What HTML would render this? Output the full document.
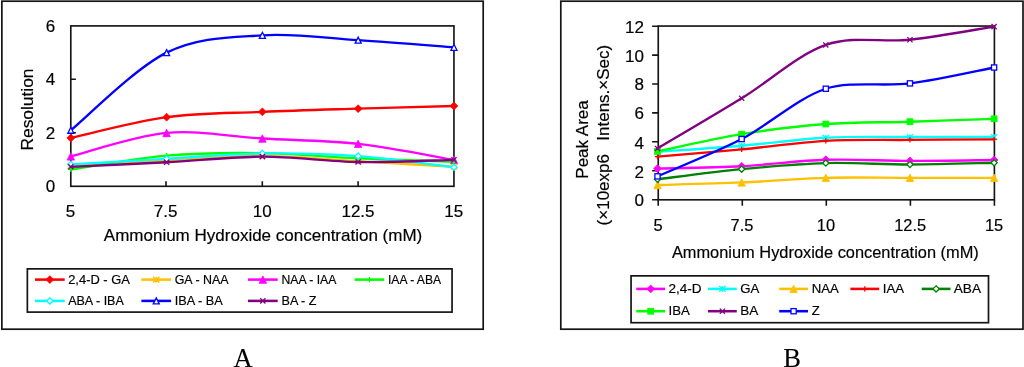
<!DOCTYPE html>
<html><head><meta charset="utf-8"><title>Charts</title>
<style>
html,body{margin:0;padding:0;background:#fff;}
body{width:1024px;height:367px;overflow:hidden;font-family:"Liberation Sans",sans-serif;}
svg{display:block;will-change:transform;}
text{font-family:"Liberation Sans",sans-serif;fill:#000;stroke:#000;stroke-width:0.18px;}
.s{font-family:"Liberation Serif",serif;stroke-width:0.1px;}
</style></head><body>
<svg width="1024" height="367" viewBox="0 0 1024 367">
<rect x="0" y="0" width="1024" height="367" fill="#fff"/>
<rect x="1.85" y="1.2" width="481.35" height="328.0" fill="#fff" stroke="#151515" stroke-width="1.7"/>
<rect x="70.8" y="25.9" width="383.15" height="160.40" fill="#fff" stroke="#151515" stroke-width="1.65"/>
<path d="M166.0 186.3v-5.1M262.3 186.3v-5.1M358.1 186.3v-5.1M70.8 132.7h5.1M70.8 79.3h5.1" stroke="#151515" stroke-width="1.6" fill="none"/>
<text x="55.1" y="192.4" font-size="17" text-anchor="end">0</text>
<text x="55.1" y="139.1" font-size="17" text-anchor="end">2</text>
<text x="55.1" y="84.7" font-size="17" text-anchor="end">4</text>
<text x="55.1" y="32.1" font-size="17" text-anchor="end">6</text>
<text x="70.6" y="216.8" font-size="17" text-anchor="middle">5</text>
<text x="165.6" y="216.8" font-size="17" text-anchor="middle">7.5</text>
<text x="262.2" y="216.8" font-size="17" text-anchor="middle">10</text>
<text x="358.0" y="216.8" font-size="17" text-anchor="middle">12.5</text>
<text x="453.8" y="216.8" font-size="17" text-anchor="middle">15</text>
<text x="103.8" y="240.8" font-size="17" textLength="318.5" lengthAdjust="spacingAndGlyphs">Ammonium Hydroxide concentration (mM)</text>
<text transform="translate(32.9 150.5) rotate(-90)" font-size="17" textLength="82.0" lengthAdjust="spacingAndGlyphs">Resolution</text>
<path d="M70.8 138 C86.76 134.53 134.66 121.55 166.59 117.2 C198.52 112.84 230.45 113.29 262.38 111.87 C294.3 110.44 326.23 109.64 358.16 108.67 C390.09 107.69 437.99 106.44 453.95 106" fill="none" stroke="#ff0000" stroke-width="2.35" stroke-linejoin="round" stroke-linecap="round"/>
<path d="M70.8 134.1L74.7 138.0L70.8 141.9L66.89999999999999 138.0Z" fill="#ff0000" stroke="#ff0000" stroke-width="0.8"/>
<path d="M166.59 113.3L170.49 117.2L166.59 121.10000000000001L162.69 117.2Z" fill="#ff0000" stroke="#ff0000" stroke-width="0.8"/>
<path d="M262.38 107.97L266.28 111.87L262.38 115.77000000000001L258.48 111.87Z" fill="#ff0000" stroke="#ff0000" stroke-width="0.8"/>
<path d="M358.16 104.77L362.06 108.67L358.16 112.57000000000001L354.26000000000005 108.67Z" fill="#ff0000" stroke="#ff0000" stroke-width="0.8"/>
<path d="M453.95 102.1L457.84999999999997 106.0L453.95 109.9L450.05 106.0Z" fill="#ff0000" stroke="#ff0000" stroke-width="0.8"/>
<path d="M70.8 166 C86.76 165.11 134.66 162.36 166.59 160.67 C198.52 158.98 230.45 155.78 262.38 155.87 C294.3 155.96 326.23 159.38 358.16 161.2 C390.09 163.02 437.99 165.87 453.95 166.8" fill="none" stroke="#ffc000" stroke-width="2.35" stroke-linejoin="round" stroke-linecap="round"/>
<path d="M67.6 163.2L74.0 168.8M67.6 168.8L74.0 163.2M70.8 163.2L70.8 168.8" fill="none" stroke="#ffc000" stroke-width="1.3"/>
<path d="M163.39000000000001 157.86999999999998L169.79 163.47M163.39000000000001 163.47L169.79 157.86999999999998M166.59 157.86999999999998L166.59 163.47" fill="none" stroke="#ffc000" stroke-width="1.3"/>
<path d="M259.18 153.07L265.58 158.67000000000002M259.18 158.67000000000002L265.58 153.07M262.38 153.07L262.38 158.67000000000002" fill="none" stroke="#ffc000" stroke-width="1.3"/>
<path d="M354.96000000000004 158.39999999999998L361.36 164.0M354.96000000000004 164.0L361.36 158.39999999999998M358.16 158.39999999999998L358.16 164.0" fill="none" stroke="#ffc000" stroke-width="1.3"/>
<path d="M450.75 164.0L457.15 169.60000000000002M450.75 169.60000000000002L457.15 164.0M453.95 164.0L453.95 169.60000000000002" fill="none" stroke="#ffc000" stroke-width="1.3"/>
<path d="M70.8 156.4 C86.76 152.49 134.66 135.91 166.59 132.93 C198.52 129.95 230.45 136.71 262.38 138.53 C294.3 140.35 326.23 140.31 358.16 143.87 C390.09 147.42 437.99 157.2 453.95 159.87" fill="none" stroke="#ff00ff" stroke-width="2.35" stroke-linejoin="round" stroke-linecap="round"/>
<path d="M70.8 152.70000000000002L74.5 160.1L67.1 160.1Z" fill="#ff00ff" stroke="#ff00ff" stroke-width="0.8"/>
<path d="M166.59 129.23000000000002L170.29 136.63L162.89000000000001 136.63Z" fill="#ff00ff" stroke="#ff00ff" stroke-width="0.8"/>
<path d="M262.38 134.83L266.08 142.23L258.68 142.23Z" fill="#ff00ff" stroke="#ff00ff" stroke-width="0.8"/>
<path d="M358.16 140.17000000000002L361.86 147.57L354.46000000000004 147.57Z" fill="#ff00ff" stroke="#ff00ff" stroke-width="0.8"/>
<path d="M453.95 156.17000000000002L457.65 163.57L450.25 163.57Z" fill="#ff00ff" stroke="#ff00ff" stroke-width="0.8"/>
<path d="M70.8 169.47 C86.76 167.16 134.66 158.31 166.59 155.6 C198.52 152.89 230.45 152.76 262.38 153.2 C294.3 153.64 326.23 156.84 358.16 158.27 C390.09 159.69 437.99 161.16 453.95 161.73" fill="none" stroke="#00ff00" stroke-width="2.35" stroke-linejoin="round" stroke-linecap="round"/>
<path d="M68.2 169.47L73.39999999999999 169.47M70.8 166.87L70.8 172.07" fill="none" stroke="#00ff00" stroke-width="1.3"/>
<path d="M163.99 155.6L169.19 155.6M166.59 153.0L166.59 158.2" fill="none" stroke="#00ff00" stroke-width="1.3"/>
<path d="M259.78 153.2L264.98 153.2M262.38 150.6L262.38 155.79999999999998" fill="none" stroke="#00ff00" stroke-width="1.3"/>
<path d="M355.56 158.27L360.76000000000005 158.27M358.16 155.67000000000002L358.16 160.87" fill="none" stroke="#00ff00" stroke-width="1.3"/>
<path d="M451.34999999999997 161.73L456.55 161.73M453.95 159.13L453.95 164.32999999999998" fill="none" stroke="#00ff00" stroke-width="1.3"/>
<path d="M70.8 164.4 C86.76 163.47 134.66 160.62 166.59 158.8 C198.52 156.98 230.45 153.91 262.38 153.47 C294.3 153.02 326.23 153.82 358.16 156.13 C390.09 158.44 437.99 165.47 453.95 167.33" fill="none" stroke="#00ffff" stroke-width="2.35" stroke-linejoin="round" stroke-linecap="round"/>
<path d="M70.8 161.3L73.89999999999999 164.4L70.8 167.5L67.7 164.4Z" fill="#fff" stroke="#00ffff" stroke-width="1.3"/>
<path d="M166.59 155.70000000000002L169.69 158.8L166.59 161.9L163.49 158.8Z" fill="#fff" stroke="#00ffff" stroke-width="1.3"/>
<path d="M262.38 150.37L265.48 153.47L262.38 156.57L259.28 153.47Z" fill="#fff" stroke="#00ffff" stroke-width="1.3"/>
<path d="M358.16 153.03L361.26000000000005 156.13L358.16 159.23L355.06 156.13Z" fill="#fff" stroke="#00ffff" stroke-width="1.3"/>
<path d="M453.95 164.23000000000002L457.05 167.33L453.95 170.43L450.84999999999997 167.33Z" fill="#fff" stroke="#00ffff" stroke-width="1.3"/>
<path d="M70.8 130.27 C86.76 117.33 134.66 68.49 166.59 52.66 C198.52 36.84 230.45 37.42 262.38 35.33 C294.3 33.24 326.23 38.13 358.16 40.13 C390.09 42.13 437.99 46.13 453.95 47.33" fill="none" stroke="#0000ff" stroke-width="2.35" stroke-linejoin="round" stroke-linecap="round"/>
<path d="M70.8 127.27000000000001L73.8 133.27L67.8 133.27Z" fill="#fff" stroke="#0000ff" stroke-width="1.3"/>
<path d="M166.59 49.66L169.59 55.66L163.59 55.66Z" fill="#fff" stroke="#0000ff" stroke-width="1.3"/>
<path d="M262.38 32.33L265.38 38.33L259.38 38.33Z" fill="#fff" stroke="#0000ff" stroke-width="1.3"/>
<path d="M358.16 37.13L361.16 43.13L355.16 43.13Z" fill="#fff" stroke="#0000ff" stroke-width="1.3"/>
<path d="M453.95 44.33L456.95 50.33L450.95 50.33Z" fill="#fff" stroke="#0000ff" stroke-width="1.3"/>
<path d="M70.8 166.8 C86.76 166.04 134.66 163.96 166.59 162.27 C198.52 160.58 230.45 156.71 262.38 156.67 C294.3 156.62 326.23 161.47 358.16 162 C390.09 162.53 437.99 160.22 453.95 159.87" fill="none" stroke="#800080" stroke-width="2.35" stroke-linejoin="round" stroke-linecap="round"/>
<path d="M68.2 164.20000000000002L73.39999999999999 169.4M68.2 169.4L73.39999999999999 164.20000000000002" fill="none" stroke="#800080" stroke-width="1.3"/>
<path d="M163.99 159.67000000000002L169.19 164.87M163.99 164.87L169.19 159.67000000000002" fill="none" stroke="#800080" stroke-width="1.3"/>
<path d="M259.78 154.07L264.98 159.26999999999998M259.78 159.26999999999998L264.98 154.07" fill="none" stroke="#800080" stroke-width="1.3"/>
<path d="M355.56 159.4L360.76000000000005 164.6M355.56 164.6L360.76000000000005 159.4" fill="none" stroke="#800080" stroke-width="1.3"/>
<path d="M451.34999999999997 157.27L456.55 162.47M451.34999999999997 162.47L456.55 157.27" fill="none" stroke="#800080" stroke-width="1.3"/>
<rect x="27.35" y="268.85" width="424.7" height="43.25" fill="#fff" stroke="#151515" stroke-width="1.7"/>
<path d="M35.0 279.6h29.7" stroke="#ff0000" stroke-width="2.55" fill="none"/>
<path d="M49.85 275.70000000000005L53.75 279.6L49.85 283.5L45.95 279.6Z" fill="#ff0000" stroke="#ff0000" stroke-width="0.8"/>
<text x="68.2" y="283.5" font-size="13.5" stroke="#000" stroke-width="0.2" textLength="61.7" lengthAdjust="spacingAndGlyphs">2,4-D - GA</text>
<path d="M141.4 279.6h29.7" stroke="#ffc000" stroke-width="2.55" fill="none"/>
<path d="M153.05 276.8L159.45 282.40000000000003M153.05 282.40000000000003L159.45 276.8M156.25 276.8L156.25 282.40000000000003" fill="none" stroke="#ffc000" stroke-width="1.3"/>
<text x="174.7" y="283.5" font-size="13.5" stroke="#000" stroke-width="0.2" textLength="53.9" lengthAdjust="spacingAndGlyphs">GA - NAA</text>
<path d="M248.0 279.6h29.7" stroke="#ff00ff" stroke-width="2.55" fill="none"/>
<path d="M262.85 275.90000000000003L266.55 283.3L259.15000000000003 283.3Z" fill="#ff00ff" stroke="#ff00ff" stroke-width="0.8"/>
<text x="281.5" y="283.5" font-size="13.5" stroke="#000" stroke-width="0.2" textLength="54.9" lengthAdjust="spacingAndGlyphs">NAA - IAA</text>
<path d="M354.6 279.6h29.7" stroke="#00ff00" stroke-width="2.55" fill="none"/>
<path d="M366.84999999999997 279.6L372.05 279.6M369.45 277.0L369.45 282.20000000000005" fill="none" stroke="#00ff00" stroke-width="1.3"/>
<text x="388.0" y="283.5" font-size="13.5" stroke="#000" stroke-width="0.2" textLength="53.0" lengthAdjust="spacingAndGlyphs">IAA - ABA</text>
<path d="M35.0 300.9h29.7" stroke="#00ffff" stroke-width="2.55" fill="none"/>
<path d="M49.85 297.79999999999995L52.95 300.9L49.85 304.0L46.75 300.9Z" fill="#fff" stroke="#00ffff" stroke-width="1.3"/>
<text x="68.2" y="305.2" font-size="13.5" stroke="#000" stroke-width="0.2" textLength="55.6" lengthAdjust="spacingAndGlyphs">ABA - IBA</text>
<path d="M141.4 300.9h29.7" stroke="#0000ff" stroke-width="2.55" fill="none"/>
<path d="M156.25 297.9L159.25 303.9L153.25 303.9Z" fill="#fff" stroke="#0000ff" stroke-width="1.3"/>
<text x="174.7" y="305.2" font-size="13.5" stroke="#000" stroke-width="0.2" textLength="48.0" lengthAdjust="spacingAndGlyphs">IBA - BA</text>
<path d="M248.0 300.9h29.7" stroke="#800080" stroke-width="2.55" fill="none"/>
<path d="M260.25 298.29999999999995L265.45000000000005 303.5M260.25 303.5L265.45000000000005 298.29999999999995" fill="none" stroke="#800080" stroke-width="1.3"/>
<text x="281.5" y="305.2" font-size="13.5" stroke="#000" stroke-width="0.2" textLength="35.0" lengthAdjust="spacingAndGlyphs">BA - Z</text>
<text class="s" x="243" y="367.0" font-size="26.5" text-anchor="middle">A</text>
<rect x="560.8" y="1.2" width="462.2" height="328.0" fill="#fff" stroke="#151515" stroke-width="1.7"/>
<rect x="658.25" y="26.05" width="336.15" height="173.75" fill="#fff" stroke="#151515" stroke-width="1.65"/>
<path d="M658.2 199.8v5.9M742.3 199.8v5.9M826.3 199.8v5.9M910.4 199.8v5.9M994.4 199.8v5.9M658.25 199.7h-6.15M658.25 170.7h-6.15M658.25 141.8h-6.15M658.25 112.9h-6.15M658.25 84.0h-6.15M658.25 55.1h-6.15M658.25 26.2h-6.15" stroke="#151515" stroke-width="1.6" fill="none"/>
<text x="644.0" y="206.1" font-size="17" text-anchor="end">0</text>
<text x="644.0" y="177.5" font-size="17" text-anchor="end">2</text>
<text x="644.0" y="148.6" font-size="17" text-anchor="end">4</text>
<text x="644.0" y="119.3" font-size="17" text-anchor="end">6</text>
<text x="644.0" y="90.4" font-size="17" text-anchor="end">8</text>
<text x="644.0" y="61.5" font-size="17" text-anchor="end">10</text>
<text x="644.0" y="32.6" font-size="17" text-anchor="end">12</text>
<text transform="translate(658.0 230.8) scale(0.966 1)" font-size="17" text-anchor="middle">5</text>
<text transform="translate(742.0 230.8) scale(0.966 1)" font-size="17" text-anchor="middle">7.5</text>
<text transform="translate(826.0 230.8) scale(0.966 1)" font-size="17" text-anchor="middle">10</text>
<text transform="translate(910.1 230.8) scale(0.966 1)" font-size="17" text-anchor="middle">12.5</text>
<text transform="translate(994.1 230.8) scale(0.966 1)" font-size="17" text-anchor="middle">15</text>
<text x="671.9" y="257.8" font-size="17" textLength="306.9" lengthAdjust="spacingAndGlyphs">Ammonium Hydroxide concentration (mM)</text>
<text transform="translate(588.3 178.7) rotate(-90)" font-size="17" textLength="78.5" lengthAdjust="spacingAndGlyphs">Peak Area</text>
<text transform="translate(609.0 225.4) rotate(-90)" font-size="17">(×10exp6</text>
<text transform="translate(609.0 140.7) rotate(-90)" font-size="17">Intens.×Sec)</text>
<path d="M657.5 168.56 C671.52 168.17 713.6 167.72 741.65 166.25 C769.7 164.78 797.75 160.63 825.8 159.74 C853.85 158.85 881.9 160.85 909.95 160.9 C938 160.95 980.08 160.17 994.1 160.03" fill="none" stroke="#ff00ff" stroke-width="2.35" stroke-linejoin="round" stroke-linecap="round"/>
<path d="M657.5 164.66L661.4 168.56L657.5 172.46L653.6 168.56Z" fill="#ff00ff" stroke="#ff00ff" stroke-width="0.8"/>
<path d="M741.65 162.35L745.55 166.25L741.65 170.15L737.75 166.25Z" fill="#ff00ff" stroke="#ff00ff" stroke-width="0.8"/>
<path d="M825.8 155.84L829.6999999999999 159.74L825.8 163.64000000000001L821.9 159.74Z" fill="#ff00ff" stroke="#ff00ff" stroke-width="0.8"/>
<path d="M909.95 157.0L913.85 160.9L909.95 164.8L906.0500000000001 160.9Z" fill="#ff00ff" stroke="#ff00ff" stroke-width="0.8"/>
<path d="M994.1 156.13L998.0 160.03L994.1 163.93L990.2 160.03Z" fill="#ff00ff" stroke="#ff00ff" stroke-width="0.8"/>
<path d="M657.5 151.79 C671.52 150.78 713.6 148.05 741.65 145.72 C769.7 143.38 797.75 139.21 825.8 137.76 C853.85 136.32 881.9 137.16 909.95 137.04 C938 136.92 980.08 137.04 994.1 137.04" fill="none" stroke="#00ffff" stroke-width="2.35" stroke-linejoin="round" stroke-linecap="round"/>
<path d="M654.3 148.98999999999998L660.7 154.59M654.3 154.59L660.7 148.98999999999998M657.5 148.98999999999998L657.5 154.59" fill="none" stroke="#00ffff" stroke-width="1.3"/>
<path d="M738.4499999999999 142.92L744.85 148.52M738.4499999999999 148.52L744.85 142.92M741.65 142.92L741.65 148.52" fill="none" stroke="#00ffff" stroke-width="1.3"/>
<path d="M822.5999999999999 134.95999999999998L829.0 140.56M822.5999999999999 140.56L829.0 134.95999999999998M825.8 134.95999999999998L825.8 140.56" fill="none" stroke="#00ffff" stroke-width="1.3"/>
<path d="M906.75 134.23999999999998L913.1500000000001 139.84M906.75 139.84L913.1500000000001 134.23999999999998M909.95 134.23999999999998L909.95 139.84" fill="none" stroke="#00ffff" stroke-width="1.3"/>
<path d="M990.9 134.23999999999998L997.3000000000001 139.84M990.9 139.84L997.3000000000001 134.23999999999998M994.1 134.23999999999998L994.1 139.84" fill="none" stroke="#00ffff" stroke-width="1.3"/>
<path d="M657.5 185.04 C671.52 184.61 713.6 183.64 741.65 182.44 C769.7 181.23 797.75 178.58 825.8 177.81 C853.85 177.04 881.9 177.81 909.95 177.81 C938 177.81 980.08 177.81 994.1 177.81" fill="none" stroke="#ffc000" stroke-width="2.35" stroke-linejoin="round" stroke-linecap="round"/>
<path d="M657.5 181.34L661.2 188.73999999999998L653.8 188.73999999999998Z" fill="#ffc000" stroke="#ffc000" stroke-width="0.8"/>
<path d="M741.65 178.74L745.35 186.14L737.9499999999999 186.14Z" fill="#ffc000" stroke="#ffc000" stroke-width="0.8"/>
<path d="M825.8 174.11L829.5 181.51L822.0999999999999 181.51Z" fill="#ffc000" stroke="#ffc000" stroke-width="0.8"/>
<path d="M909.95 174.11L913.6500000000001 181.51L906.25 181.51Z" fill="#ffc000" stroke="#ffc000" stroke-width="0.8"/>
<path d="M994.1 174.11L997.8000000000001 181.51L990.4 181.51Z" fill="#ffc000" stroke="#ffc000" stroke-width="0.8"/>
<path d="M657.5 156.56 C671.52 155.35 713.6 151.96 741.65 149.33 C769.7 146.7 797.75 142.37 825.8 140.8 C853.85 139.23 881.9 140.17 909.95 139.93 C938 139.69 980.08 139.45 994.1 139.35" fill="none" stroke="#ff0000" stroke-width="2.35" stroke-linejoin="round" stroke-linecap="round"/>
<path d="M654.9 156.56L660.1 156.56M657.5 153.96L657.5 159.16" fill="none" stroke="#ff0000" stroke-width="1.3"/>
<path d="M739.05 149.33L744.25 149.33M741.65 146.73000000000002L741.65 151.93" fill="none" stroke="#ff0000" stroke-width="1.3"/>
<path d="M823.1999999999999 140.8L828.4 140.8M825.8 138.20000000000002L825.8 143.4" fill="none" stroke="#ff0000" stroke-width="1.3"/>
<path d="M907.35 139.93L912.5500000000001 139.93M909.95 137.33L909.95 142.53" fill="none" stroke="#ff0000" stroke-width="1.3"/>
<path d="M991.5 139.35L996.7 139.35M994.1 136.75L994.1 141.95" fill="none" stroke="#ff0000" stroke-width="1.3"/>
<path d="M657.5 179.26 C671.52 177.57 713.6 171.84 741.65 169.14 C769.7 166.44 797.75 163.84 825.8 163.07 C853.85 162.29 881.9 164.56 909.95 164.51 C938 164.46 980.08 163.07 994.1 162.78" fill="none" stroke="#008000" stroke-width="2.35" stroke-linejoin="round" stroke-linecap="round"/>
<path d="M657.5 176.16L660.6 179.26L657.5 182.35999999999999L654.4 179.26Z" fill="#fff" stroke="#008000" stroke-width="1.3"/>
<path d="M741.65 166.04L744.75 169.14L741.65 172.23999999999998L738.55 169.14Z" fill="#fff" stroke="#008000" stroke-width="1.3"/>
<path d="M825.8 159.97L828.9 163.07L825.8 166.17L822.6999999999999 163.07Z" fill="#fff" stroke="#008000" stroke-width="1.3"/>
<path d="M909.95 161.41L913.0500000000001 164.51L909.95 167.60999999999999L906.85 164.51Z" fill="#fff" stroke="#008000" stroke-width="1.3"/>
<path d="M994.1 159.68L997.2 162.78L994.1 165.88L991.0 162.78Z" fill="#fff" stroke="#008000" stroke-width="1.3"/>
<path d="M657.5 151.35 C671.52 148.49 713.6 138.7 741.65 134.15 C769.7 129.6 797.75 126.1 825.8 124.03 C853.85 121.96 881.9 122.58 909.95 121.72 C938 120.85 980.08 119.31 994.1 118.82" fill="none" stroke="#00ff00" stroke-width="2.35" stroke-linejoin="round" stroke-linecap="round"/>
<rect x="654.55" y="148.4" width="5.9" height="5.9" fill="#00ff00" stroke="#00ff00" stroke-width="0.8"/>
<rect x="738.6999999999999" y="131.20000000000002" width="5.9" height="5.9" fill="#00ff00" stroke="#00ff00" stroke-width="0.8"/>
<rect x="822.8499999999999" y="121.08" width="5.9" height="5.9" fill="#00ff00" stroke="#00ff00" stroke-width="0.8"/>
<rect x="907.0" y="118.77" width="5.9" height="5.9" fill="#00ff00" stroke="#00ff00" stroke-width="0.8"/>
<rect x="991.15" y="115.86999999999999" width="5.9" height="5.9" fill="#00ff00" stroke="#00ff00" stroke-width="0.8"/>
<path d="M657.5 148.46 C671.52 140.1 713.6 115.55 741.65 98.29 C769.7 81.04 797.75 54.7 825.8 44.94 C853.85 35.18 881.9 42.8 909.95 39.74 C938 36.68 980.08 28.78 994.1 26.58" fill="none" stroke="#800080" stroke-width="2.35" stroke-linejoin="round" stroke-linecap="round"/>
<path d="M654.9 145.86L660.1 151.06M654.9 151.06L660.1 145.86" fill="none" stroke="#800080" stroke-width="1.3"/>
<path d="M739.05 95.69000000000001L744.25 100.89M739.05 100.89L744.25 95.69000000000001" fill="none" stroke="#800080" stroke-width="1.3"/>
<path d="M823.1999999999999 42.339999999999996L828.4 47.54M823.1999999999999 47.54L828.4 42.339999999999996" fill="none" stroke="#800080" stroke-width="1.3"/>
<path d="M907.35 37.14L912.5500000000001 42.34M907.35 42.34L912.5500000000001 37.14" fill="none" stroke="#800080" stroke-width="1.3"/>
<path d="M991.5 23.979999999999997L996.7 29.18M991.5 29.18L996.7 23.979999999999997" fill="none" stroke="#800080" stroke-width="1.3"/>
<path d="M657.5 176.37 C671.52 170.15 716.39 152.22 741.65 139.07 C768.56 125.06 797.75 98.03 825.8 88.75 C849.92 80.77 884.07 86.67 909.95 83.4 C936.24 80.08 980.08 70.15 994.1 67.5" fill="none" stroke="#0000ff" stroke-width="2.35" stroke-linejoin="round" stroke-linecap="round"/>
<rect x="654.9" y="173.77" width="5.2" height="5.2" fill="#fff" stroke="#0000ff" stroke-width="1.3"/>
<rect x="739.05" y="136.47" width="5.2" height="5.2" fill="#fff" stroke="#0000ff" stroke-width="1.3"/>
<rect x="823.1999999999999" y="86.15" width="5.2" height="5.2" fill="#fff" stroke="#0000ff" stroke-width="1.3"/>
<rect x="907.35" y="80.80000000000001" width="5.2" height="5.2" fill="#fff" stroke="#0000ff" stroke-width="1.3"/>
<rect x="991.5" y="64.9" width="5.2" height="5.2" fill="#fff" stroke="#0000ff" stroke-width="1.3"/>
<rect x="631.05" y="275.85" width="357.45" height="46.85" fill="#fff" stroke="#151515" stroke-width="1.7"/>
<path d="M636.3 288.9h28.8" stroke="#ff00ff" stroke-width="2.55" fill="none"/>
<path d="M650.7 285.0L654.6 288.9L650.7 292.79999999999995L646.8000000000001 288.9Z" fill="#ff00ff" stroke="#ff00ff" stroke-width="0.8"/>
<text x="668.5" y="292.9" font-size="13.5" stroke="#000" stroke-width="0.2" textLength="33.1" lengthAdjust="spacingAndGlyphs">2,4-D</text>
<path d="M708.0 288.9h28.8" stroke="#00ffff" stroke-width="2.55" fill="none"/>
<path d="M719.1999999999999 286.09999999999997L725.6 291.7M719.1999999999999 291.7L725.6 286.09999999999997M722.4 286.09999999999997L722.4 291.7" fill="none" stroke="#00ffff" stroke-width="1.3"/>
<text x="740.2" y="292.9" font-size="13.5" stroke="#000" stroke-width="0.2" textLength="19.1" lengthAdjust="spacingAndGlyphs">GA</text>
<path d="M779.2 288.9h28.8" stroke="#ffc000" stroke-width="2.55" fill="none"/>
<path d="M793.6 285.2L797.3000000000001 292.59999999999997L789.9 292.59999999999997Z" fill="#ffc000" stroke="#ffc000" stroke-width="0.8"/>
<text x="811.7" y="292.9" font-size="13.5" stroke="#000" stroke-width="0.2" textLength="27.1" lengthAdjust="spacingAndGlyphs">NAA</text>
<path d="M850.4 288.9h28.8" stroke="#ff0000" stroke-width="2.55" fill="none"/>
<path d="M862.1999999999999 288.9L867.4 288.9M864.8 286.29999999999995L864.8 291.5" fill="none" stroke="#ff0000" stroke-width="1.3"/>
<text x="882.8" y="292.9" font-size="13.5" stroke="#000" stroke-width="0.2" textLength="21.3" lengthAdjust="spacingAndGlyphs">IAA</text>
<path d="M921.7 288.9h28.8" stroke="#008000" stroke-width="2.55" fill="none"/>
<path d="M936.1 285.79999999999995L939.2 288.9L936.1 292.0L933.0 288.9Z" fill="#fff" stroke="#008000" stroke-width="1.3"/>
<text x="953.8" y="292.9" font-size="13.5" stroke="#000" stroke-width="0.2" textLength="27.2" lengthAdjust="spacingAndGlyphs">ABA</text>
<path d="M636.3 311.2h28.8" stroke="#00ff00" stroke-width="2.55" fill="none"/>
<rect x="647.75" y="308.25" width="5.9" height="5.9" fill="#00ff00" stroke="#00ff00" stroke-width="0.8"/>
<text x="668.5" y="315.3" font-size="13.5" stroke="#000" stroke-width="0.2" textLength="21.3" lengthAdjust="spacingAndGlyphs">IBA</text>
<path d="M708.0 311.2h28.8" stroke="#800080" stroke-width="2.55" fill="none"/>
<path d="M719.8 308.59999999999997L725.0 313.8M719.8 313.8L725.0 308.59999999999997" fill="none" stroke="#800080" stroke-width="1.3"/>
<text x="740.2" y="315.3" font-size="13.5" stroke="#000" stroke-width="0.2" textLength="18.0" lengthAdjust="spacingAndGlyphs">BA</text>
<path d="M779.2 311.2h28.8" stroke="#0000ff" stroke-width="2.55" fill="none"/>
<rect x="791.0" y="308.59999999999997" width="5.2" height="5.2" fill="#fff" stroke="#0000ff" stroke-width="1.3"/>
<text x="811.7" y="315.3" font-size="13.5" stroke="#000" stroke-width="0.2" textLength="8.0" lengthAdjust="spacingAndGlyphs">Z</text>
<text class="s" x="792" y="366.6" font-size="26.5" text-anchor="middle">B</text>
</svg></body></html>
